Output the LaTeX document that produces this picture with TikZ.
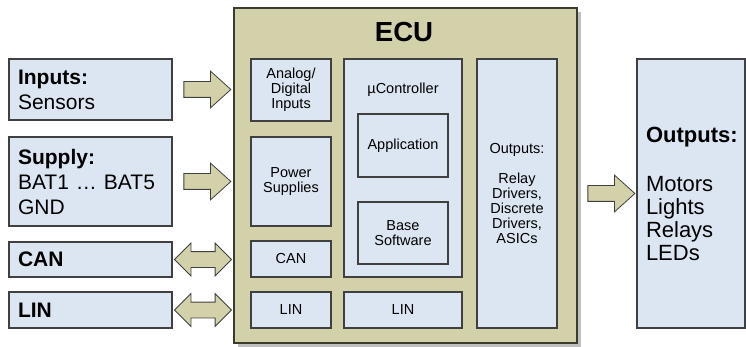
\documentclass[tikz,border=0pt]{standalone}
\usepackage{fontspec}
\setmainfont{Liberation Sans}
\usetikzlibrary{calc,shapes.arrows,shadows}

\definecolor{boxblue}{RGB}{220,230,242}
\definecolor{ecukhaki}{RGB}{211,209,170}
\definecolor{edgegray}{RGB}{64,64,64}

\begin{document}
\begin{tikzpicture}[x=1pt, y=-1pt, font=\fontsize{14.5}{15}\selectfont,
  box/.style={draw=edgegray, line width=1.1pt, fill=boxblue, inner sep=0pt, align=center},
  extbox/.style={box, align=left, inner xsep=9pt, font=\fontsize{21}{25}\selectfont},
  fatarrow/.style={single arrow, draw=edgegray, fill=ecukhaki, line width=0.8pt,
    inner xsep=0pt, inner ysep=7.5pt, minimum height=47pt,
    single arrow head extend=10.5pt, single arrow tip angle=84},
  twoarrow/.style={double arrow, draw=edgegray, fill=ecukhaki, line width=0.8pt,
    inner xsep=0pt, inner ysep=7.5pt, minimum height=57pt,
    double arrow head extend=8.5pt, double arrow tip angle=90}]
  \useasboundingbox (0,0) rectangle (746,347);

  % ECU frame
  \node[draw={rgb,255:red,60;green,60;blue,45}, line width=1.1pt, fill=ecukhaki,
    minimum width=343pt, minimum height=335pt,
    drop shadow={shadow xshift=4pt, shadow yshift=-4pt, fill=black!50, opacity=.5}] (ecu) at (405.5,175.5) {};
  \node[font=\fontsize{27.6}{30}\selectfont\bfseries] (ecutitle) at (404,32.5) {ECU};

  % inside the ECU
  \node[box, minimum width=80pt, minimum height=62pt] (adi) at (291,90) {Analog/\\Digital\\Inputs};
  \node[box, minimum width=80pt, minimum height=89pt] (power) at (291,181.5) {Power\\Supplies};
  \node[box, minimum width=80pt, minimum height=36pt] (ecan) at (291,259) {CAN};
  \node[box, minimum width=80pt, minimum height=36pt] (elin) at (291,310) {LIN};
  \node[box, minimum width=118pt, minimum height=218pt] (uc) at (403,168) {};
  \node (uclabel) at (403,90) {µController};
  \node[box, minimum width=90pt, minimum height=63pt] (app) at (403,145.5) {Application};
  \node[box, minimum width=90pt, minimum height=62pt] (bsw) at (403,233) {Base\\Software};
  \node[box, minimum width=118pt, minimum height=36pt] (ulin) at (403,310) {LIN};
  \node[box, minimum width=80pt, minimum height=269pt] (outs) at (517,193.5)
    {Outputs:\\[15pt]Relay\\Drivers,\\Discrete\\Drivers,\\ASICs};

  % outside
  \node[extbox, text width=145pt, minimum height=61pt] (inputs) at (90.5,89.5) {\textbf{Inputs:}\\Sensors};
  \node[extbox, text width=145pt, minimum height=89pt] (supply) at (90.5,181.5) {\textbf{Supply:}\\BAT1 … BAT5\\GND};
  \node[extbox, text width=145pt, minimum height=35pt] (can) at (90.5,259.5) {\textbf{CAN}};
  \node[extbox, text width=145pt, minimum height=36pt] (lin) at (90.5,310) {\textbf{LIN}};
  \node[extbox, text width=90pt, minimum height=269pt, font=\fontsize{22}{23}\selectfont] (outputs) at (691,193.5)
    {\textbf{Outputs:}\\[26pt]Motors\\Lights\\Relays\\LEDs};

  % block arrows
  \node[fatarrow] (a1) at ($(inputs.east)!.5!(inputs.east -| ecu.west)$) {};
  \node[fatarrow] (a2) at ($(supply.east)!.5!(supply.east -| ecu.west)$) {};
  \node[twoarrow] (a3) at ($(can.east)!.5!(can.east -| ecu.west)$) {};
  \node[twoarrow] (a4) at ($(lin.east)!.5!(lin.east -| ecu.west)$) {};
  \node[fatarrow] (a5) at ($(outputs.west -| ecu.east)!.5!(outputs.west)$) {};
\end{tikzpicture}
\end{document}
